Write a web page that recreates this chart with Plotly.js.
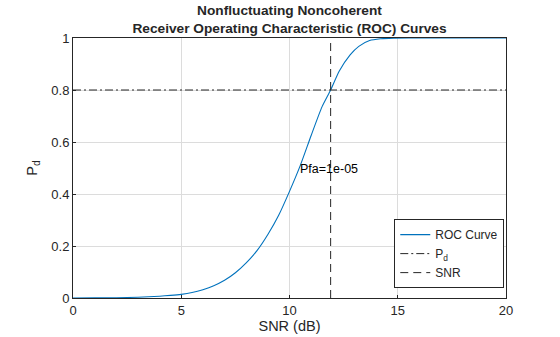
<!DOCTYPE html>
<html>
<head>
<meta charset="utf-8">
<script src="https://cdn.plot.ly/plotly-3.0.1.min.js"></script>
<style>html,body{margin:0;padding:0;background:#fff;}#chart{width:560px;height:337px;}</style>
</head>
<body>
<div id="chart"></div>
<script>
// Data
const snrDb = [0,1,2,3,4,4.5,5,5.5,6,6.5,7,7.5,8,8.5,9,9.5,10,10.5,11,11.5,11.9,12.3,12.8,13.2,13.7,14.2,14.8,15.5,16,17,18,19,20];
const pdValues = [0.0001,0.0003,0.001,0.003,0.007,0.010,0.014,0.021,0.032,0.047,0.068,0.097,0.135,0.182,0.244,0.318,0.41,0.51,0.625,0.735,0.8,0.873,0.935,0.968,0.99,0.997,0.9995,1,1,1,1,1,1];
const targetPd = 0.8;
const requiredSnr = 11.9;
const pfaLabel = "Pfa=1e-05";
const pfaLabelPos = [10.39, 0.497];
const xRange = [0, 20];
const yRange = [0, 1];
const xTicks = [0, 5, 10, 15, 20];
const yTicks = [0, 0.2, 0.4, 0.6, 0.8, 1];
const yTickText = ["0", "0.2", "0.4", "0.6", "0.8", "1"];

const FONT = "Liberation Sans, Arial, Helvetica, sans-serif";
const TXT = "#262626";

const traces = [
  {x: snrDb, y: pdValues, type: "scatter", mode: "lines", name: "ROC Curve",
   line: {color: "#0072BD", width: 1.1, shape: "spline", smoothing: 0.6}},
  {x: xRange, y: [targetPd, targetPd], type: "scatter", mode: "lines", name: "P<sub>d</sub>",
   line: {color: "#262626", width: 1, dash: "8px,3px,2px,3px"}},
  {x: [requiredSnr, requiredSnr], y: yRange, type: "scatter", mode: "lines", name: "SNR",
   line: {color: "#262626", width: 1, dash: "8px,5px"}}
];

const axisCommon = {
  showline: true, mirror: true, linecolor: "#262626", linewidth: 1,
  showgrid: true, gridcolor: "#dcdcdc", gridwidth: 1,
  ticks: "inside", ticklen: 3, tickcolor: "#262626",
  zeroline: false, tickfont: {family: FONT, size: 13, color: TXT}
};

const layout = {
  width: 560, height: 337,
  margin: {l: 73, r: 54, t: 38, b: 39},
  paper_bgcolor: "#ffffff", plot_bgcolor: "#ffffff",
  title: {text: "<b>Nonfluctuating Noncoherent</b><br><b>Receiver Operating Characteristic (ROC) Curves</b>",
          font: {family: FONT, size: 13.7, color: TXT}, x: 0.5, xref: "paper", xanchor: "center",
          y: 0.955, yref: "container", yanchor: "top"},
  xaxis: Object.assign({}, axisCommon, {range: xRange, tickvals: xTicks, ticktext: xTicks.map(String),
          title: {text: "SNR (dB)", font: {family: FONT, size: 14.5, color: TXT}, standoff: 3}}),
  yaxis: Object.assign({}, axisCommon, {range: yRange, tickvals: yTicks, ticktext: yTickText,
          title: {text: "P<sub>d</sub>", font: {family: FONT, size: 14.5, color: TXT}, standoff: 10}}),
  showlegend: true,
  legend: {x: 0.996, xanchor: "right", y: 0.038, yanchor: "bottom",
           bgcolor: "#ffffff", bordercolor: "#262626", borderwidth: 1,
           font: {family: FONT, size: 12, color: TXT}, tracegroupgap: 0, itemwidth: 30},
  annotations: [{x: pfaLabelPos[0], y: pfaLabelPos[1], xref: "x", yref: "y", text: pfaLabel,
                 showarrow: false, xanchor: "left", yanchor: "middle",
                 font: {family: FONT, size: 12.5, color: "#000000"}}]
};

Plotly.newPlot("chart", traces, layout, {displayModeBar: false, staticPlot: true});
</script>
</body>
</html>
